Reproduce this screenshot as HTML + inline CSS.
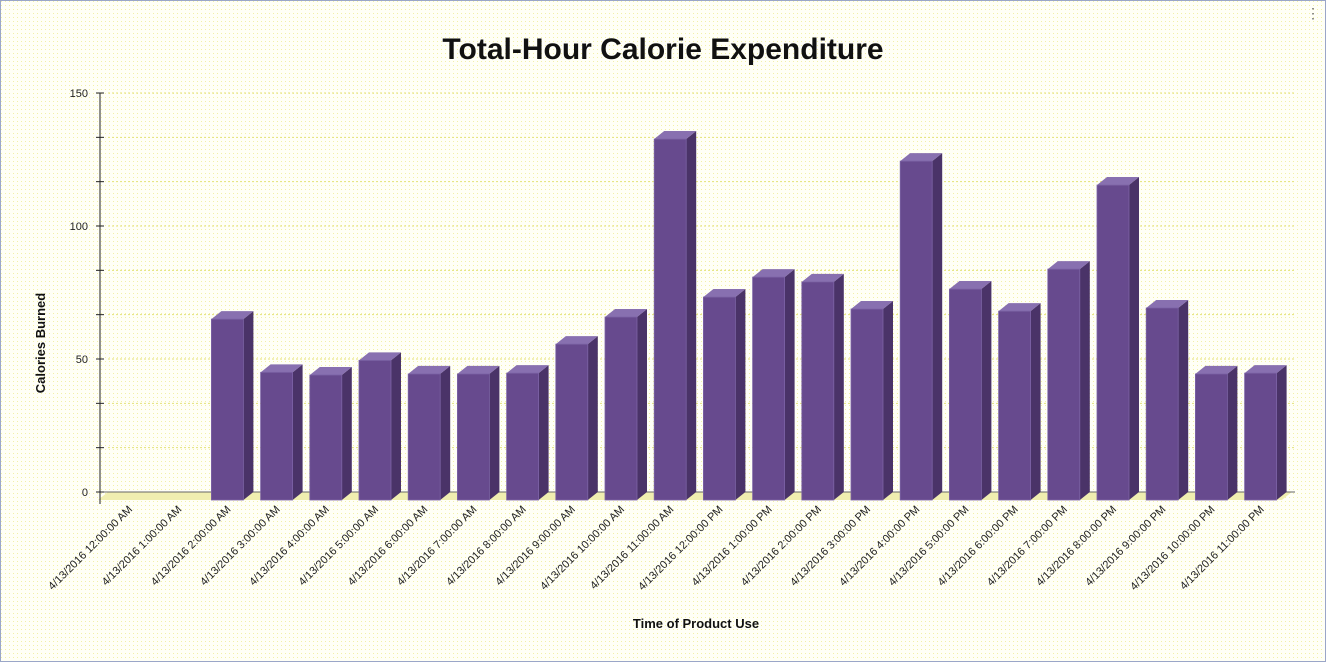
<!DOCTYPE html>
<html><head><meta charset="utf-8"><style>
html,body{margin:0;padding:0;background:#fffff5;}
svg{display:block;font-family:"Liberation Sans",sans-serif;}
</style></head><body>
<svg id="chart" width="1326" height="662">
<defs>
<pattern id="dots" width="4" height="4" patternUnits="userSpaceOnUse"><rect width="4" height="4" fill="#fffff6"/><rect x="1" y="1" width="1" height="1" fill="#f2f0a8"/></pattern>
</defs>
<rect x="0" y="0" width="1326" height="662" fill="url(#dots)"/>
<rect x="0.5" y="0.5" width="1325" height="661" fill="none" stroke="#9aa6c8"/>
<text x="663" y="59" text-anchor="middle" font-size="30" font-weight="bold" fill="#111">Total-Hour Calorie Expenditure</text>
<text transform="translate(45,343) rotate(-90)" text-anchor="middle" font-size="13" font-weight="bold" fill="#111">Calories Burned</text>
<text x="696" y="628" text-anchor="middle" font-size="13" font-weight="bold" fill="#111">Time of Product Use</text>
<text x="1313" y="18" text-anchor="middle" font-size="14" fill="#666">⋮</text>
<g id="grid"></g><g id="bars"></g><g id="labels"></g>
</svg>
<script>
const categories=["4/13/2016 12:00:00 AM","4/13/2016 1:00:00 AM","4/13/2016 2:00:00 AM","4/13/2016 3:00:00 AM","4/13/2016 4:00:00 AM","4/13/2016 5:00:00 AM","4/13/2016 6:00:00 AM","4/13/2016 7:00:00 AM","4/13/2016 8:00:00 AM","4/13/2016 9:00:00 AM","4/13/2016 10:00:00 AM","4/13/2016 11:00:00 AM","4/13/2016 12:00:00 PM","4/13/2016 1:00:00 PM","4/13/2016 2:00:00 PM","4/13/2016 3:00:00 PM","4/13/2016 4:00:00 PM","4/13/2016 5:00:00 PM","4/13/2016 6:00:00 PM","4/13/2016 7:00:00 PM","4/13/2016 8:00:00 PM","4/13/2016 9:00:00 PM","4/13/2016 10:00:00 PM","4/13/2016 11:00:00 PM"];
const calories=[0,0,68,48,47,52.5,47.4,47.4,47.7,58.6,68.8,135.7,76.3,83.8,82,71.8,127.4,79.3,71,86.8,118.4,72.2,47.4,47.7];
const yTicks=[0,50,100,150];
const yMax=150;
const NS="http://www.w3.org/2000/svg";
function mk(t,a,p){const e=document.createElementNS(NS,t);for(const k in a)e.setAttribute(k,a[k]);p.appendChild(e);return e;}
const x0=108,step=49.2,baseY=492,topY=93,dx=10,dy=8,bw=32,padL=5;
const yS=v=>baseY-(v/yMax)*(baseY-topY);
const xS=i=>x0+i*step+padL;
const grid=document.getElementById('grid'),bars=document.getElementById('bars'),labels=document.getElementById('labels');
// floor
const floor=mk('polygon',{points:`${x0},${baseY} ${x0+24*step+3},${baseY} ${x0+24*step-7},${baseY+8} ${x0-10},${baseY+8}`,fill:'#f0eeb0'},grid);


for(let k=1;k<=9;k++){const v=yMax*k/9;const l=mk('line',{x1:x0,x2:1295,y1:yS(v),y2:yS(v),stroke:'#e4e27a','stroke-dasharray':'2,2','stroke-width':1},grid);

}
const ax=mk('line',{x1:100,x2:100,y1:topY,y2:baseY+12,stroke:'#222'},grid);


const bl=mk('line',{x1:104,x2:1295,y1:baseY,y2:baseY,stroke:'#666'},grid);


for(let k=0;k<=9;k++){const t=mk('line',{x1:96,x2:104,y1:yS(yMax*k/9),y2:yS(yMax*k/9),stroke:'#222'},grid);

}
yTicks.forEach(v=>{const t=mk('text',{x:88,y:yS(v)+4,'text-anchor':'end','font-size':11,fill:'#222'},grid);t.textContent=v;

});
calories.forEach((v,i)=>{
 const L=xS(i),T=yS(v)+dy,B=baseY+dy;
 const g=mk('g',{},bars);
 
 
 if(v>0){
 mk('polygon',{points:`${L+bw},${T} ${L+bw+dx},${T-dy} ${L+bw+dx},${B-dy} ${L+bw},${B}`,fill:'#4a3368'},g);
 mk('polygon',{points:`${L},${T} ${L+dx},${T-dy} ${L+bw+dx},${T-dy} ${L+bw},${T}`,fill:'#8870b0'},g);
 mk('rect',{x:L,y:T,width:bw,height:B-T,fill:'#674a8e',stroke:'#7d64a6','stroke-width':0.8},g);
 }
 const cx=L+bw/2+4;
 const t=mk('text',{transform:`translate(${cx},${510}) rotate(-45)`,'text-anchor':'end','font-size':11,fill:'#222'},labels);
 t.textContent=categories[i];
 
 
});
</script>
</body></html>
